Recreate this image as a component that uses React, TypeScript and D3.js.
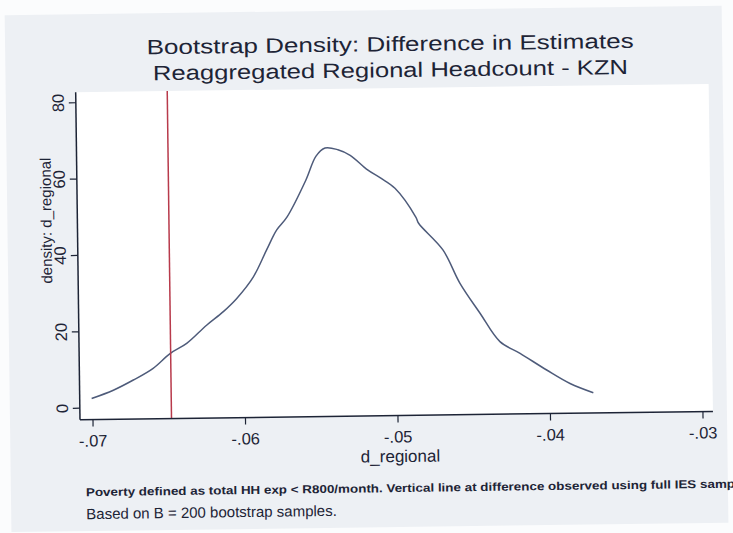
import React from "react";
import * as d3 from "d3";

// Bootstrap density of the difference in estimates (d_regional)
const densityX = [
  -0.07007, -0.06864, -0.06732, -0.06601, -0.06489, -0.06379, -0.06247, -0.06136,
  -0.06047, -0.05936, -0.05847, -0.05779, -0.05711, -0.05584, -0.05515, -0.05455,
  -0.05371, -0.05291, -0.05178, -0.05092, -0.05, -0.04866, -0.04847, -0.04691,
  -0.04582, -0.04453, -0.04325, -0.04194, -0.04021, -0.03869, -0.03717,
];
const densityY = [
  2.5, 4.6, 7.2, 10.2, 14.0, 16.6, 21.3, 24.8,
  28.2, 33.8, 40.8, 46.0, 49.3, 58.9, 65.2, 67.3,
  66.8, 65.3, 61.4, 59.2, 56.5, 48.9, 47.2, 40.2,
  31.4, 23.5, 16.0, 12.85, 8.4, 4.8, 2.3,
];
const observedDiff = -0.06485;

const xTicks = [-0.07, -0.06, -0.05, -0.04, -0.03];
const xTickLabels = ["-.07", "-.06", "-.05", "-.04", "-.03"];
const yTicks = [0, 20, 40, 60, 80];
const yTickLabels = ["0", "20", "40", "60", "80"];

const titleLines = [
  "Bootstrap Density: Difference in Estimates",
  "Reaggregated Regional Headcount - KZN",
];
const xTitle = "d_regional";
const yTitle = "density: d_regional";
const noteLines = [
  "Poverty defined as total HH exp < R800/month. Vertical line at difference observed using full IES sample.",
  "Based on B = 200 bootstrap samples.",
];

const W = 733;
const H = 533;
const plot = { left: 78, right: 711, top: 88, bottom: 415.5 };
const FONT = "'Liberation Sans', Arial, sans-serif";
const INK = "#1d2436";

export default function App() {
  const x = d3.scaleLinear().domain([-0.07, -0.03]).range([91, 701]);
  const y = d3.scaleLinear().domain([0, 80]).range([404, 98.5]);

  const pts: [number, number][] = densityX.map((v, i) => [v, densityY[i]]);
  const line = d3
    .line<[number, number]>()
    .x((d) => x(d[0]))
    .y((d) => y(d[1]))
    .curve(d3.curveCatmullRom.alpha(0.5));

  return (
    <svg
      width={W}
      height={H}
      style={{ position: "fixed", left: 0, top: 0, background: "#fbfcfd" }}
      fontFamily={FONT}
    >
      <g transform="rotate(-0.75 400 266)">
        {/* graph region */}
        <rect x={8} y={10} width={717} height={517} fill="#edf0f4" />
        {/* plot region */}
        <rect
          x={plot.left}
          y={plot.top}
          width={plot.right - plot.left}
          height={plot.bottom - plot.top}
          fill="#ffffff"
        />

        {/* title */}
        <text x={393} y={51} textAnchor="middle" fontSize={20.5} fill={INK} textLength={487} lengthAdjust="spacingAndGlyphs">
          {titleLines[0]}
        </text>
        <text x={393} y={77} textAnchor="middle" fontSize={20.5} fill={INK} textLength={475} lengthAdjust="spacingAndGlyphs">
          {titleLines[1]}
        </text>

        {/* density curve */}
        <path d={line(pts) ?? ""} fill="none" stroke="#4e5b7a" strokeWidth={1.5} />

        {/* observed difference */}
        <line
          x1={x(observedDiff)}
          x2={x(observedDiff)}
          y1={plot.top}
          y2={plot.bottom}
          stroke="#b83a4b"
          strokeWidth={1.5}
        />

        {/* axes */}
        <line x1={plot.left} x2={plot.left} y1={plot.top} y2={plot.bottom} stroke={INK} strokeWidth={1.5} />
        <line x1={plot.left} x2={plot.right} y1={plot.bottom} y2={plot.bottom} stroke={INK} strokeWidth={1.5} />

        {yTicks.map((t, i) => (
          <g key={`y${t}`}>
            <line x1={plot.left - 7} x2={plot.left} y1={y(t)} y2={y(t)} stroke={INK} strokeWidth={1.2} />
            <text
              transform={`translate(${plot.left - 12},${y(t)}) rotate(-90)`}
              textAnchor="middle"
              fontSize={16.5}
              fill={INK}
            >
              {yTickLabels[i]}
            </text>
          </g>
        ))}

        {xTicks.map((t, i) => (
          <g key={`x${t}`}>
            <line x1={x(t)} x2={x(t)} y1={plot.bottom} y2={plot.bottom + 7} stroke={INK} strokeWidth={1.2} />
            <text x={x(t)} y={plot.bottom + 27} textAnchor="middle" fontSize={16.5} fill={INK}>
              {xTickLabels[i]}
            </text>
          </g>
        ))}

        <text x={398} y={462} textAnchor="middle" fontSize={17} fill={INK}>
          {xTitle}
        </text>
        <text
          transform="translate(52,216) rotate(-90)"
          textAnchor="middle"
          fontSize={15}
          fill={INK}
        >
          {yTitle}
        </text>

        {/* notes */}
        <text x={83} y={492} fontSize={11.5} fill={INK} fontWeight="bold" textLength={664} lengthAdjust="spacingAndGlyphs">
          {noteLines[0]}
        </text>
        <text x={83} y={515} fontSize={15} fill={INK}>
          {noteLines[1]}
        </text>
      </g>
    </svg>
  );
}
